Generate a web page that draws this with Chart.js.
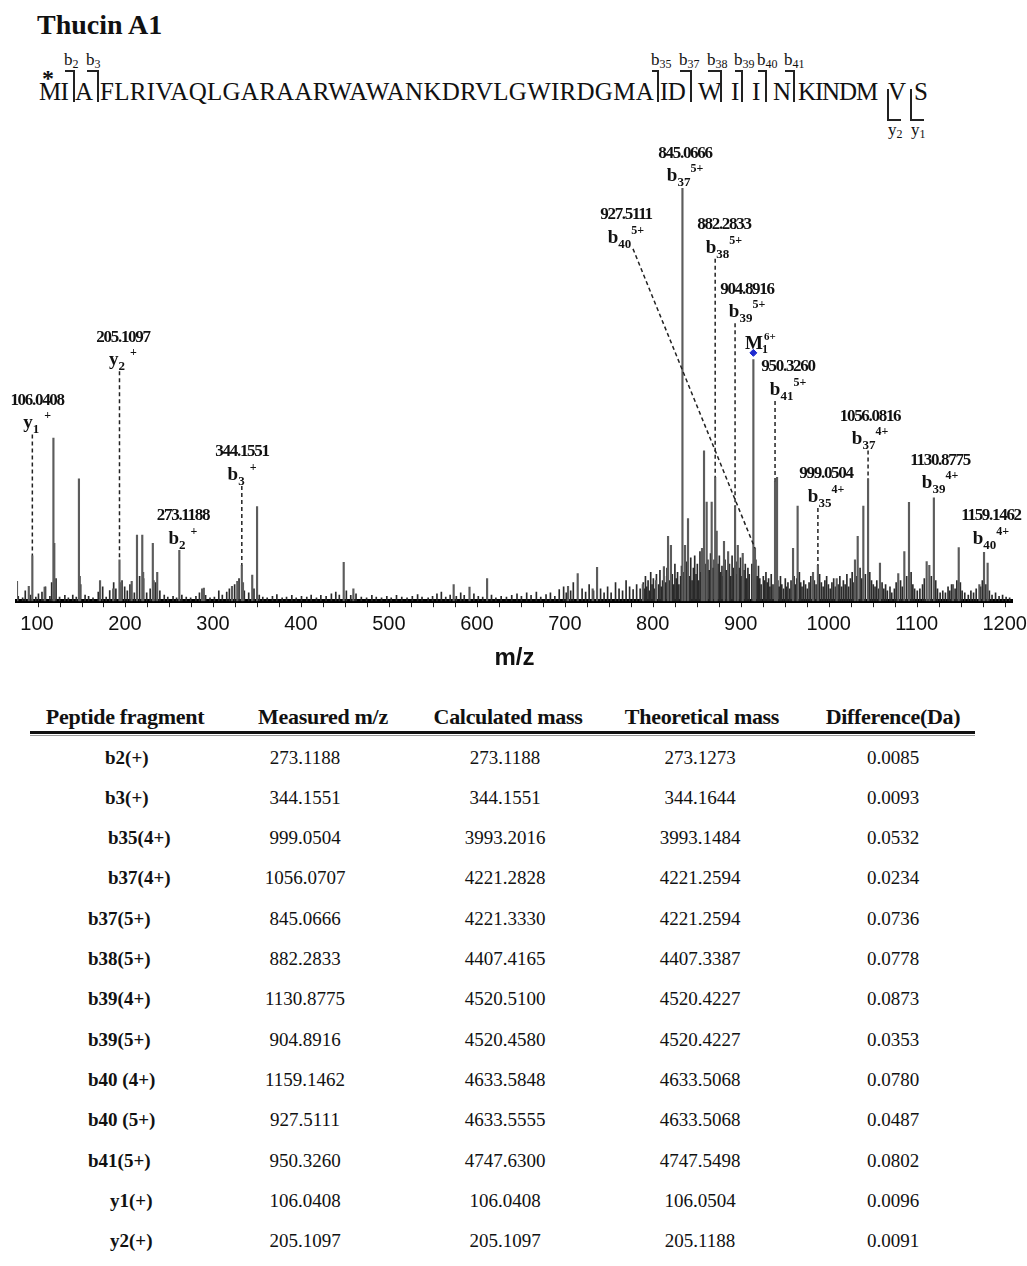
<!DOCTYPE html>
<html>
<head>
<meta charset="utf-8">
<script src="https://cdn.jsdelivr.net/npm/chart.js@4.4.1/dist/chart.umd.min.js"></script>
<style>
    html, body { margin: 0; padding: 0; background: #fff; }
    #page {
        position: relative; width: 1027px; height: 1266px; overflow: hidden;
        font-family: "Liberation Serif", "Times New Roman", serif; color: #111;
    }
    .t { position: absolute; white-space: nowrap; line-height: 1; }
    .bk { position: absolute; border-color: #222; border-style: solid; border-width: 0; }
    #spec-wrap { position: absolute; left: 0; top: 130px; width: 1027px; height: 550px; }
</style>
</head>
<body>
<div id="page">
    <div class="t" style="left:37px;top:11px;font-size:28px;font-weight:bold;">Thucin A1</div>
    <div id="seq"></div>
    <div id="spec-wrap"><canvas id="chart-spectrum" width="1027" height="550"></canvas></div>
    <div id="table"></div>
</div>
<script>
// ---- sequence with fragment cuts ----
const seqSegments = ['MI', 'A', 'FLRIVAQLGARAARWAWANKDRVLGWIRDGMA', 'ID', 'W', 'I', 'I', 'N', 'KINDM', 'V', 'S'];
const bCuts = ['2', '3', '35', '37', '38', '39', '40', '41'];
const yCuts = ['2', '1'];

// ---- spectrum: labelled / larger peaks (m/z, relative intensity %) ----
const peakMz = [88.6, 102, 106.04, 120, 130, 131, 159, 160, 183, 198, 205.11, 207, 219, 225, 231, 232, 243, 244, 248,
    273.12, 299, 301, 333, 339, 344.16, 345.5, 356, 361.5, 460, 471, 585, 603, 623, 715, 726, 743, 748,
    800, 815, 824, 828.7, 832, 845.07, 848, 851.4, 867.3, 869.6, 872.6, 878.3, 882.28, 884, 892.3, 897,
    904.89, 908, 913.6, 925.7, 927.51, 950.33, 952.6, 970.8, 976, 993.5, 999.05, 1020.4, 1041.2, 1044.3,
    1050.7, 1056.08, 1069.6, 1090.4, 1097.3, 1102.6, 1122.7, 1125.7, 1130.88, 1152.6, 1159.15, 1182.6,
    1187.9, 1192];
const peakInt = [4.8, 3.6, 11, 3.4, 39.5, 14, 29.6, 6, 5, 3, 10, 4.5, 4.8, 16, 16, 7, 14, 5, 7,
    12.3, 3, 3.2, 3.6, 4.8, 8.7, 4.5, 6.3, 22.9, 9.4, 3, 4, 3.4, 5.5, 3.6, 6.7, 3, 8.2,
    4, 5, 8.4, 15.7, 13.5, 100, 13.5, 20, 12.8, 36.4, 24, 24, 30, 17, 14.5, 12,
    23, 13.5, 11.6, 58.5, 12.8, 29, 30, 12.8, 23, 7, 8.7, 5.5, 10, 15.7,
    23, 29.6, 9.2, 6.7, 12, 23.9, 9.6, 8.7, 25, 4, 13, 4,
    11.8, 9.2];

// ---- spectrum: small background peaks ----
const noiseMz = [90, 95, 98, 104, 110, 113, 117, 121, 126, 128, 133, 137, 143, 147, 152, 156, 161, 166, 170, 175,
    181, 186, 190, 194, 198.5, 201, 208, 211, 214, 217, 222, 228, 232.5, 236, 240, 246, 251, 256, 260, 266,
    270, 276, 281, 286, 292, 296, 303, 308, 313, 318, 322, 327, 330, 336, 341, 347, 352, 358, 364, 368,
    373, 379, 384, 390, 395, 401, 406, 412, 418, 423, 429, 434, 440, 446, 451, 455, 463, 468, 474, 480,
    486, 492, 497, 503, 509, 514, 520, 526, 532, 538, 544, 549, 556, 561, 566, 571, 576, 581, 588, 593,
    597, 608, 613, 618, 628, 633, 639, 645, 651, 657, 662, 668, 673, 679, 684, 690, 695, 700, 705, 710,
    713, 718, 721, 731, 735, 739, 744, 752, 756, 760, 764, 769, 773, 777, 781, 785, 789, 793, 797,
    800.5, 801.5, 803, 804.5, 806, 807.5, 809, 810.5, 812, 813.5, 815.5, 818, 819.5, 821, 822.5, 824.5, 826, 827.5,
    830, 833.5, 835, 836.5, 838, 839.5, 841, 843, 844, 846.5, 850, 853, 854.5, 856, 857.5, 859, 860.5, 862,
    863.5, 865, 866, 868.5, 871, 874, 875.5, 877, 879.5, 881, 883, 885.5, 887, 888.5, 890, 891.5, 893.5, 895,
    898.5, 900, 901.5, 903, 906, 907, 909.5, 911, 912.5, 915, 916.5, 918, 919.5, 921, 924, 927, 928.5, 930,
    931.5, 933, 934.5, 937, 938.5, 940, 941.5, 943, 944.5, 946, 948, 953.5, 955, 956.5, 958, 960, 962, 963.5,
    965, 967, 968.5, 972, 973.5, 975, 978, 979.5, 981, 983, 985, 987, 989, 991, 995, 997, 1001, 1003,
    1005, 1007, 1009, 1011, 1013, 1015, 1017, 1019, 1022, 1024, 1026, 1028, 1030, 1032, 1034, 1036, 1038, 1040,
    1043, 1047, 1049, 1053, 1058, 1060, 1062, 1064, 1066, 1068, 1072, 1074, 1076, 1078, 1081, 1083, 1086, 1088,
    1093, 1095, 1100, 1105, 1107, 1109, 1112, 1115, 1118, 1120, 1128, 1133, 1135, 1138, 1141, 1144, 1147, 1149,
    1151, 1155, 1157, 1161, 1163, 1166, 1170, 1173, 1176, 1179, 1184, 1186, 1190, 1194, 1197, 1201, 1205, 1209,
    1213, 1217];
const noiseInt = [1.2, 0.8, 2.5, 1.5, 1.0, 1.8, 2.2, 3.5, 1.2, 4.5, 5.5, 1.0, 1.4, 0.8, 1.5, 1.0, 4.0, 1.5, 1.2, 0.8,
    2.2, 3.5, 1.0, 2.6, 4.5, 3.0, 5.0, 3.5, 2.5, 4.0, 2.0, 6.0, 5.5, 2.0, 3.0, 4.5, 2.5, 1.5, 1.0, 1.2,
    0.8, 1.5, 1.0, 0.8, 1.2, 2.0, 1.4, 0.8, 1.0, 2.5, 1.5, 2.2, 3.0, 4.0, 5.5, 2.5, 2.0, 3.0, 1.5, 1.0,
    0.8, 1.2, 1.6, 0.8, 1.0, 1.4, 0.8, 1.2, 1.0, 1.5, 0.8, 1.4, 1.2, 1.8, 2.2, 1.5, 2.5, 1.4, 1.8, 1.0,
    0.8, 1.4, 1.0, 0.8, 1.2, 0.8, 1.4, 1.0, 0.8, 1.2, 1.6, 1.0, 0.8, 1.2, 1.8, 2.2, 1.0, 1.5, 1.2, 2.0,
    1.4, 1.8, 1.2, 1.0, 1.5, 0.8, 1.2, 1.0, 1.4, 1.8, 1.2, 2.0, 1.4, 2.2, 1.0, 1.6, 2.0, 1.2, 2.8, 3.5,
    2.0, 2.5, 4.5, 3.0, 2.2, 4.0, 2.5, 3.0, 2.0, 3.5, 2.0, 4.5, 3.0, 2.5, 5.0, 3.5, 2.8, 4.0, 3.0,
    4.5, 3.0, 6.0, 3.5, 5.0, 2.5, 7.0, 4.0, 5.5, 3.0, 6.5, 4.0, 7.5, 3.5, 5.0, 6.0, 4.5, 8.0,
    5.0, 6.5, 4.0, 9.0, 5.5, 7.0, 4.0, 6.0, 8.5, 7.0, 9.5, 6.0, 10.5, 5.0, 8.0, 11.0, 6.5, 9.0,
    5.0, 12.0, 7.0, 6.0, 9.0, 10.0, 7.5, 11.5, 8.0, 10.0, 6.5, 9.0, 11.0, 7.0, 8.5, 6.0, 10.0, 7.5,
    9.0, 6.0, 11.0, 8.0, 9.5, 6.5, 8.0, 10.5, 6.0, 7.5, 9.0, 5.5, 8.0, 6.5, 9.0, 7.5, 10.0, 6.0,
    8.5, 5.5, 4.0, 6.0, 5.0, 7.0, 4.5, 5.5, 3.5, 6.5, 4.0, 5.0, 3.5, 6.0, 4.0, 3.0, 5.5, 3.5,
    4.5, 3.0, 5.0, 6.0, 4.0, 5.5, 7.0, 4.5, 3.5, 5.0, 4.0, 3.0, 4.5, 6.0, 5.0, 4.0, 6.5, 4.5,
    3.5, 5.0, 6.0, 4.0, 3.0, 4.5, 5.5, 3.5, 4.0, 6.0, 3.5, 5.0, 4.0, 6.5, 3.5, 5.5, 7.0, 4.5,
    6.0, 8.0, 5.5, 6.5, 7.0, 5.0, 4.0, 3.5, 5.0, 3.0, 4.5, 3.0, 4.0, 2.5, 3.5, 2.0, 3.0, 4.5,
    5.0, 3.5, 6.0, 7.0, 4.0, 3.0, 2.5, 3.0, 4.0, 5.5, 6.0, 5.0, 3.0, 2.0, 2.5, 2.0, 3.5, 2.5,
    4.0, 3.0, 5.0, 4.5, 2.5, 2.0, 1.5, 2.5, 2.0, 3.0, 3.5, 5.0, 4.0, 2.5, 1.5, 2.0, 1.2, 1.5,
    1.0, 0.8];

// ---- fragment annotations on the spectrum ----
const annMz = [106.04, 205.11, 273.12, 344.16, 845.07, 927.51, 882.28, 904.89, 950.33, 999.05, 1056.08, 1130.88, 1159.15];
const annText = ['106.0408', '205.1097', '273.1188', '344.1551', '845.0666', '927.5111', '882.2833', '904.8916',
    '950.3260', '999.0504', '1056.0816', '1130.8775', '1159.1462'];
const annIon = ['y', 'y', 'b', 'b', 'b', 'b', 'b', 'b', 'b', 'b', 'b', 'b', 'b'];
const annSub = ['1', '2', '2', '3', '37', '40', '38', '39', '41', '35', '37', '39', '40'];
const annSup = ['+', '+', '+', '+', '5+', '5+', '5+', '5+', '5+', '4+', '4+', '4+', '4+'];
const annDashed = [true, true, false, true, false, true, true, true, true, true, true, false, false];
const precursorMz = 925.7;

// ---- x axis ----
const xMin = 88.6;
const xMax = 1219.7;
const xStep = 25;
const xLabelEvery = 100;

// ---- table ----
const tableHead = ['Peptide fragment', 'Measured m/z', 'Calculated mass', 'Theoretical mass', 'Difference(Da)'];
const fragments = ['b2(+)', 'b3(+)', 'b35(4+)', 'b37(4+)', 'b37(5+)', 'b38(5+)', 'b39(4+)', 'b39(5+)',
    'b40 (4+)', 'b40 (5+)', 'b41(5+)', 'y1(+)', 'y2(+)'];
const measured = ['273.1188', '344.1551', '999.0504', '1056.0707', '845.0666', '882.2833', '1130.8775',
    '904.8916', '1159.1462', '927.5111', '950.3260', '106.0408', '205.1097'];
const calculated = ['273.1188', '344.1551', '3993.2016', '4221.2828', '4221.3330', '4407.4165', '4520.5100',
    '4520.4580', '4633.5848', '4633.5555', '4747.6300', '106.0408', '205.1097'];
const theoretical = ['273.1273', '344.1644', '3993.1484', '4221.2594', '4221.2594', '4407.3387', '4520.4227',
    '4520.4227', '4633.5068', '4633.5068', '4747.5498', '106.0504', '205.1188'];
const difference = ['0.0085', '0.0093', '0.0532', '0.0234', '0.0736', '0.0778', '0.0873', '0.0353',
    '0.0780', '0.0487', '0.0802', '0.0096', '0.0091'];

// =========================== layout ===========================
const SERIF = '"Liberation Serif", "Times New Roman", serif';

function addText(parent, html, left, top, size, extra) {
    const d = document.createElement('div');
    d.className = 't';
    d.innerHTML = html;
    d.style.left = left + 'px';
    d.style.top = top + 'px';
    d.style.fontSize = size + 'px';
    if (extra) Object.assign(d.style, extra);
    parent.appendChild(d);
    return d;
}

// sequence line: segment start / end x, cut bracket x
const segX = [39, 75, 100, 660, 698, 731, 752, 773, 798, 888, 914];
const segEnd = [68, 88, 654, 685, 717, 737, 758, 788, 877, 905, 927];
const bCutX = [73, 97, 657, 690, 720, 741, 765, 793];
const bCutFrom = [65, 87, 652, 680, 708, 735, 758, 785];
const yCutX = [887, 910];

const seq = document.getElementById('seq');
seqSegments.forEach((s, i) => {
    const d = addText(seq, s, segX[i], 79, 25);
    const natural = d.getBoundingClientRect().width;
    const want = segEnd[i] - segX[i];
    if (s.length > 1) d.style.letterSpacing = ((want - natural) / s.length) + 'px';
});
addText(seq, '*', 42, 66, 24, { fontWeight: 'bold' });

bCuts.forEach((n, i) => {
    const b = document.createElement('div');
    b.className = 'bk';
    Object.assign(b.style, {
        left: bCutFrom[i] + 'px', top: '70px', width: (bCutX[i] - bCutFrom[i]) + 'px', height: '30px',
        borderTopWidth: '2px', borderRightWidth: '2px',
    });
    seq.appendChild(b);
    addText(seq, 'b<span style="font-size:12px;position:relative;top:3px">' + n + '</span>',
        bCutFrom[i] - 1, 51, 17);
});
yCuts.forEach((n, i) => {
    const b = document.createElement('div');
    b.className = 'bk';
    Object.assign(b.style, {
        left: yCutX[i] + 'px', top: '89px', width: '12px', height: '30px',
        borderLeftWidth: '2px', borderBottomWidth: '2px',
    });
    seq.appendChild(b);
    addText(seq, 'y<span style="font-size:12px;position:relative;top:3px">' + n + '</span>',
        yCutX[i] + 1, 121, 17);
});

// table
const tbl = document.getElementById('table');
const headCenters = [125, 323, 508, 702, 893];
const colCenters = [305, 505, 700, 893];
const fragLeft = [105, 105, 108, 108, 88, 88, 88, 88, 88, 88, 88, 110, 110];
tableHead.forEach((h, i) => {
    addText(tbl, h, headCenters[i], 706, 22, { fontWeight: 'bold', transform: 'translateX(-50%)', letterSpacing: '-0.3px' });
});
const rule = document.createElement('div');
Object.assign(rule.style, { position: 'absolute', left: '30px', top: '731px', width: '945px', height: '3px', background: '#111' });
tbl.appendChild(rule);
const rule2 = document.createElement('div');
Object.assign(rule2.style, { position: 'absolute', left: '30px', top: '735px', width: '945px', height: '1px', background: '#999' });
tbl.appendChild(rule2);
fragments.forEach((f, r) => {
    const cy = 757 + r * 40.33;
    addText(tbl, f, fragLeft[r], cy - 9.5, 19, { fontWeight: 'bold' });
    [measured, calculated, theoretical, difference].forEach((col, c) => {
        addText(tbl, col[r], colCenters[c], cy - 9.5, 19, { transform: 'translateX(-50%)' });
    });
});

// =========================== spectrum ===========================
// label anchors in data units (m/z, relative level)
const labelAt = [[111.4, 48.6], [209.1, 63.9], [277.3, 20.7], [344.4, 36.1], [848.0, 108.4], [780.9, 93.5],
    [892.3, 91.1], [918.5, 75.5], [965.1, 56.7], [1008.3, 30.8], [1058.3, 44.7], [1137.9, 34.1], [1195.8, 20.7]];
const precursorLabelAt = [916.2, 62.7];

function levelAt(mz) {
    let best = 0;
    peakMz.forEach((m, i) => { if (Math.abs(m - mz) < 0.6) best = Math.max(best, peakInt[i]); });
    return best;
}

function drawIon(ctx, letter, sub, sup, cx, cy) {
    const base = cy + 6;
    ctx.font = 'bold 19px ' + SERIF;
    const w1 = ctx.measureText(letter).width;
    ctx.font = 'bold 13px ' + SERIF;
    const w2 = ctx.measureText(sub).width;
    ctx.font = 'bold 12px ' + SERIF;
    const w3 = ctx.measureText(sup).width;
    const gap = sup === '+' ? 5 : 0;
    let sx = cx - (w1 + w2 + gap + w3) / 2;
    ctx.textAlign = 'left';
    ctx.textBaseline = 'alphabetic';
    ctx.font = 'bold 19px ' + SERIF;
    ctx.fillText(letter, sx, base);
    sx += w1;
    ctx.font = 'bold 13px ' + SERIF;
    ctx.fillText(sub, sx, base + 5);
    sx += w2 + gap;
    ctx.font = 'bold 12px ' + SERIF;
    ctx.fillText(sup, sx, base - 9);
}

const annotate = {
    id: 'annotate',
    afterDatasetsDraw(chart) {
        const { ctx, scales: { x, y } } = chart;
        ctx.save();
        ctx.fillStyle = '#111';
        annMz.forEach((mz, i) => {
            const px = x.getPixelForValue(mz);
            const py = y.getPixelForValue(levelAt(mz));
            const lx = x.getPixelForValue(labelAt[i][0]);
            const ly = y.getPixelForValue(labelAt[i][1]);
            ctx.font = 'bold 17px ' + SERIF;
            ctx.letterSpacing = '-1.3px';
            ctx.textAlign = 'center';
            ctx.textBaseline = 'middle';
            ctx.fillText(annText[i], lx, ly);
            ctx.letterSpacing = '0px';
            drawIon(ctx, annIon[i], annSub[i], annSup[i], lx, ly + 22);
            if (annDashed[i]) {
                const sx = Math.abs(lx - px) > 20 ? lx + 7 : px;
                ctx.beginPath();
                ctx.setLineDash([4, 3]);
                ctx.lineWidth = 1.5;
                ctx.strokeStyle = '#222';
                ctx.moveTo(sx, ly + 34);
                ctx.lineTo(px, py);
                ctx.stroke();
            }
        });
        ctx.setLineDash([]);
        // precursor label
        const mx = x.getPixelForValue(precursorLabelAt[0]);
        const my = y.getPixelForValue(precursorLabelAt[1]);
        ctx.font = 'bold 19px ' + SERIF;
        const wm = ctx.measureText('M').width;
        ctx.textAlign = 'left';
        ctx.textBaseline = 'alphabetic';
        ctx.fillText('M', mx, my + 7);
        ctx.font = 'bold 12px ' + SERIF;
        ctx.fillText('1', mx + wm - 1, my + 11);
        ctx.font = 'bold 11px ' + SERIF;
        ctx.fillText('6+', mx + wm + 1, my - 2);
        ctx.restore();
    }
};

const toPoints = (xs, ys) => xs.map((v, i) => ({ x: v, y: ys[i] }));

new Chart(document.getElementById('chart-spectrum'), {
    type: 'bar',
    data: {
        datasets: [
            {
                label: 'background',
                data: toPoints(noiseMz, noiseInt),
                backgroundColor: '#2a2a2a',
                barThickness: 1,
                grouped: false,
                order: 3,
            },
            {
                label: 'peaks',
                data: toPoints(peakMz, peakInt),
                backgroundColor: '#5c5c5c',
                barThickness: 1.5,
                grouped: false,
                order: 2,
            },
            {
                type: 'scatter',
                label: 'M1 6+',
                data: [{ x: precursorMz, y: levelAt(precursorMz) + 1.6 }],
                pointStyle: 'rectRot',
                pointRadius: 3.5,
                backgroundColor: '#1f2bd0',
                borderColor: '#1f2bd0',
                order: 1,
            },
        ],
    },
    options: {
        responsive: false,
        devicePixelRatio: 1,
        animation: false,
        layout: { padding: { top: 58, left: 17, right: 15, bottom: 3 } },
        plugins: { legend: { display: false }, tooltip: { enabled: false } },
        scales: {
            x: {
                type: 'linear',
                min: xMin,
                max: xMax,
                offset: false,
                grid: { display: true, drawOnChartArea: false, drawTicks: true, tickLength: 6, tickColor: '#222', lineWidth: 1 },
                border: { display: true, color: '#000', width: 4 },
                ticks: {
                    stepSize: xStep,
                    autoSkip: false,
                    includeBounds: false,
                    maxRotation: 0,
                    labelOffset: 10,
                    padding: 5,
                    color: '#111',
                    font: { family: '"Liberation Sans", Arial, sans-serif', size: 20 },
                    callback: v => (v % xLabelEvery === 0 ? String(v) : ''),
                },
                title: {
                    display: true,
                    text: 'm/z',
                    color: '#111',
                    font: { family: '"Liberation Sans", Arial, sans-serif', size: 24, weight: 'bold' },
                    padding: { top: 3, bottom: 4 },
                },
            },
            y: { display: false, min: 0, max: 100 },
        },
    },
    plugins: [annotate],
});
</script>
</body>
</html>
